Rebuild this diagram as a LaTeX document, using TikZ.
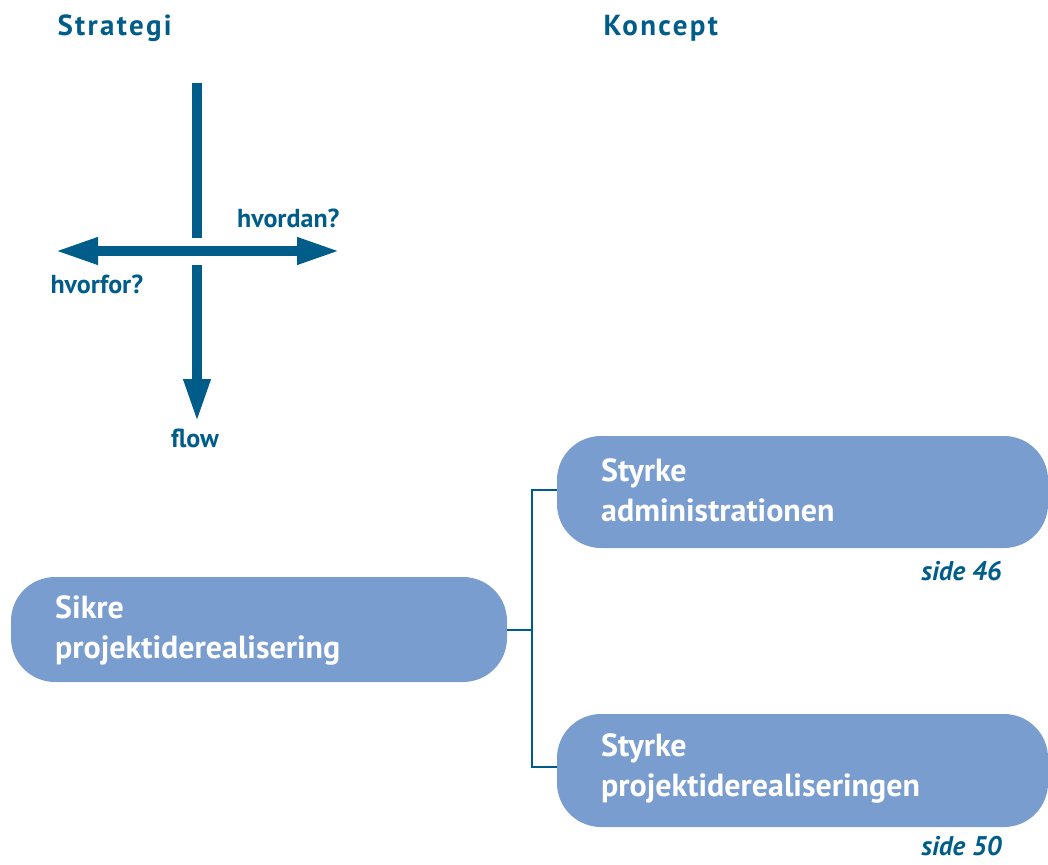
\documentclass[tikz,border=0pt]{standalone}
\usepackage{fontspec}
\setmainfont{PT Sans}
\usetikzlibrary{arrows.meta}
\definecolor{ink}{RGB}{0,93,138}
\definecolor{boxblue}{RGB}{122,157,207}
\tikzset{
  heading/.style={text=ink, font=\bfseries\addfontfeatures{LetterSpace=8}\fontsize{29}{34}\selectfont, anchor=west},
  axislabel/.style={text=ink, font=\bfseries\fontsize{26}{30}\selectfont},
  pageref/.style={text=ink, font=\bfseries\itshape\fontsize{27}{30}\selectfont, anchor=east},
  pill/.style={fill=boxblue, rounded corners=44pt},
  pilltext/.style={text=white, align=left, anchor=west, inner sep=0pt,
    font=\bfseries\fontsize{32}{40}\selectfont},
  axis/.style={draw=ink, line width=9.5pt},
  bigtip/.style={-{Triangle[length=43pt,width=25pt]}},
  link/.style={draw=ink, line width=2.5pt},
}
\begin{document}
\begin{tikzpicture}[x=1pt,y=-1pt]
\useasboundingbox (0,0) rectangle (1048,864);

% column headings
\node[heading] (strategi) at (54,28) {Strategi};
\node[heading] (koncept) at (600,28) {Koncept};

% axis cross
\coordinate (vtop) at (197,83);
\coordinate (vgapA) at (197,238);
\coordinate (vgapB) at (197,265);
\coordinate (vtip) at (197,422);
\coordinate (hleft) at (55,251);
\coordinate (hright) at (340,251);
\draw[axis] (vtop) -- (vgapA);
\draw[axis, bigtip] (vgapB) -- (vtip);
\draw[axis, {Triangle[length=43pt,width=25pt]}-{Triangle[length=43pt,width=25pt]}] (hleft) -- (hright);

\node[axislabel, anchor=east] (hvordan) at (343,218) {hvordan?};
\node[axislabel, anchor=west] (hvorfor) at (47,284) {hvorfor?};
\node[axislabel] (flow) at (195,438) {flow};

% boxes
\path[pill] (11,577) rectangle (507,682);
\node[pilltext] (sikre) at (55,630) {Sikre\\projektiderealisering};

\path[pill] (557,436) rectangle (1048,548);
\node[pilltext] (adm) at (601,490) {Styrke\\administrationen};

\path[pill] (557,714) rectangle (1048,827);
\node[pilltext] (proj) at (601,768) {Styrke\\projektiderealiseringen};

\node[pageref] (p46) at (1005,571) {side 46};
\node[pageref] (p50) at (1005,846) {side 50};

% tree connector
\coordinate (root) at (507,630);
\coordinate (fork) at (532,630);
\coordinate (up) at (557,490);
\coordinate (down) at (557,767);
\draw[link] (root) -- (fork);
\draw[link] (up) -| (fork) |- (down);
\end{tikzpicture}
\end{document}
